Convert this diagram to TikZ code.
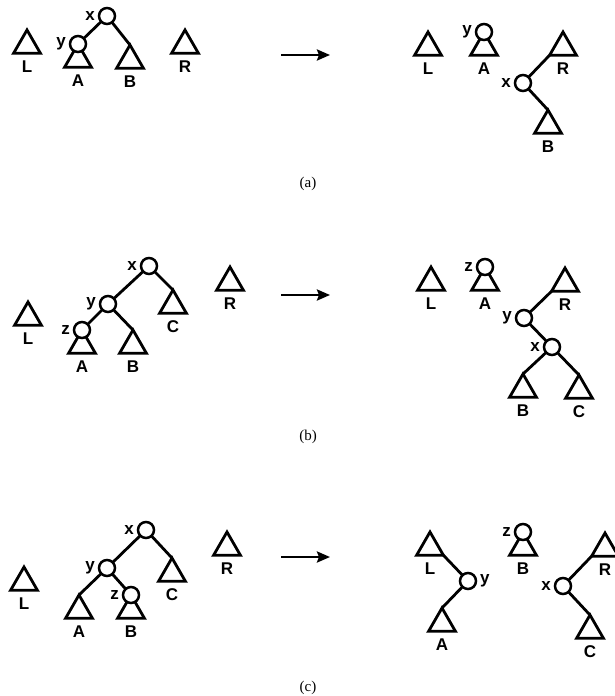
\documentclass[tikz,border=0pt]{standalone}
\usepackage{fontspec}
\newfontfamily\lettr{Liberation Sans}
\newfontfamily\capfont{Liberation Serif}
\usetikzlibrary{arrows.meta, positioning, shapes.geometric}

\tikzset{
  sub/.style={draw, regular polygon, regular polygon sides=3, minimum size=31pt,
    inner sep=0pt, outer sep=0pt, line width=2.8pt, anchor=corner 1},
  vtx/.style={draw, circle, fill=white, minimum size=16pt, inner sep=0pt,
    outer sep=0pt, line width=2.5pt},
  lbl/.style={font=\lettr\bfseries\fontsize{17}{17}\selectfont, inner sep=0pt},
  tl/.style={label={[lbl, label distance=7pt]below:#1}},
  vl/.style={label={[lbl, label distance=4pt]left:#1}},
  vr/.style={label={[lbl, label distance=4pt]right:#1}},
  link/.style={line width=2.8pt},
  turn/.style={line width=2.6pt, -{Stealth[length=13pt, width=11pt, inset=2pt]}},
  captxt/.style={font=\capfont\fontsize{15}{15}\selectfont},
}

\begin{document}
\begin{tikzpicture}[x=1pt, y=-1pt]
\useasboundingbox (0,0) rectangle (615,696);

% (a) before
\node[sub, tl=L] (La) at (27,30) {};
\node[sub, tl=A] (Aa) at (78,44) {};
\node[vtx, vl=y] (ya) at (Aa.corner 1) {};
\node[vtx, vl=x] (xa) at (107,16) {};
\node[sub, tl=B] (Ba) at (130,45) {};
\node[sub, tl=R] (Ra) at (185,30) {};
\draw[link] (xa) -- (ya);
\draw[link] (xa) -- (Ba.corner 1);

\coordinate (sa) at (281,55);
\coordinate (ta) at (330,55);
\draw[turn] (sa) -- (ta);

% (a) after
\node[sub, tl=L] (La2) at (428,32) {};
\node[sub, tl=A] (Aa2) at (484,32) {};
\node[vtx, vl=y] (ya2) at (Aa2.corner 1) {};
\node[sub, tl=R] (Ra2) at (563,32) {};
\node[vtx, vl=x] (xa2) at (523,83) {};
\node[sub, tl=B] (Ba2) at (548,110) {};
\draw[link] (xa2) -- (Ra2.corner 2);
\draw[link] (xa2) -- (Ba2.corner 1);

\node[captxt] (capa) at (308,184) {(a)};

% (b) before
\node[sub, tl=L] (Lb) at (28,302) {};
\node[sub, tl=A] (Ab) at (82,330) {};
\node[vtx, vl=z] (zb) at (Ab.corner 1) {};
\node[vtx, vl=y] (yb) at (108,304) {};
\node[vtx, vl=x] (xb) at (149,266) {};
\node[sub, tl=B] (Bb) at (133,330) {};
\node[sub, tl=C] (Cb) at (173,290) {};
\node[sub, tl=R] (Rb) at (230,267) {};
\draw[link] (xb) -- (yb);
\draw[link] (xb) -- (Cb.corner 1);
\draw[link] (yb) -- (zb);
\draw[link] (yb) -- (Bb.corner 1);

\coordinate (sb) at (281,295);
\coordinate (tb) at (330,295);
\draw[turn] (sb) -- (tb);

% (b) after
\node[sub, tl=L] (Lb2) at (431,267) {};
\node[sub, tl=A] (Ab2) at (485,267) {};
\node[vtx, vl=z] (zb2) at (Ab2.corner 1) {};
\node[sub, tl=R] (Rb2) at (565,268) {};
\node[vtx, vl=y] (yb2) at (524,318) {};
\node[vtx, vl=x] (xb2) at (552,347) {};
\node[sub, tl=B] (Bb2) at (523,374) {};
\node[sub, tl=C] (Cb2) at (579,375) {};
\draw[link] (yb2) -- (Rb2.corner 2);
\draw[link] (yb2) -- (xb2);
\draw[link] (xb2) -- (Bb2.corner 1);
\draw[link] (xb2) -- (Cb2.corner 1);

\node[captxt] (capb) at (308,437) {(b)};

% (c) before
\node[sub, tl=L] (Lc) at (24,567) {};
\node[vtx, vl=x] (xc) at (146,530) {};
\node[vtx, vl=y] (yc) at (107,568) {};
\node[sub, tl=A] (Ac) at (79,595) {};
\node[sub, tl=B] (Bc) at (131,595) {};
\node[vtx, vl=z] (zc) at (Bc.corner 1) {};
\node[sub, tl=C] (Cc) at (172,558) {};
\node[sub, tl=R] (Rc) at (227,532) {};
\draw[link] (xc) -- (yc);
\draw[link] (xc) -- (Cc.corner 1);
\draw[link] (yc) -- (Ac.corner 1);
\draw[link] (yc) -- (zc);

\coordinate (sc) at (281,557);
\coordinate (tc) at (330,557);
\draw[turn] (sc) -- (tc);

% (c) after
\node[sub, tl=L] (Lc2) at (430,532) {};
\node[vtx, vr=y] (yc2) at (468,581) {};
\node[sub, tl=A] (Ac2) at (442,608) {};
\node[sub, tl=B] (Bc2) at (523,532) {};
\node[vtx, vl=z] (zc2) at (Bc2.corner 1) {};
\node[vtx, vl=x] (xc2) at (563,586) {};
\node[sub, tl=R] (Rc2) at (605,533) {};
\node[sub, tl=C] (Cc2) at (590,615) {};
\draw[link] (Lc2.corner 3) -- (yc2);
\draw[link] (yc2) -- (Ac2.corner 1);
\draw[link] (xc2) -- (Rc2.corner 2);
\draw[link] (xc2) -- (Cc2.corner 1);

\node[captxt] (capc) at (308,688) {(c)};
\end{tikzpicture}
\end{document}
